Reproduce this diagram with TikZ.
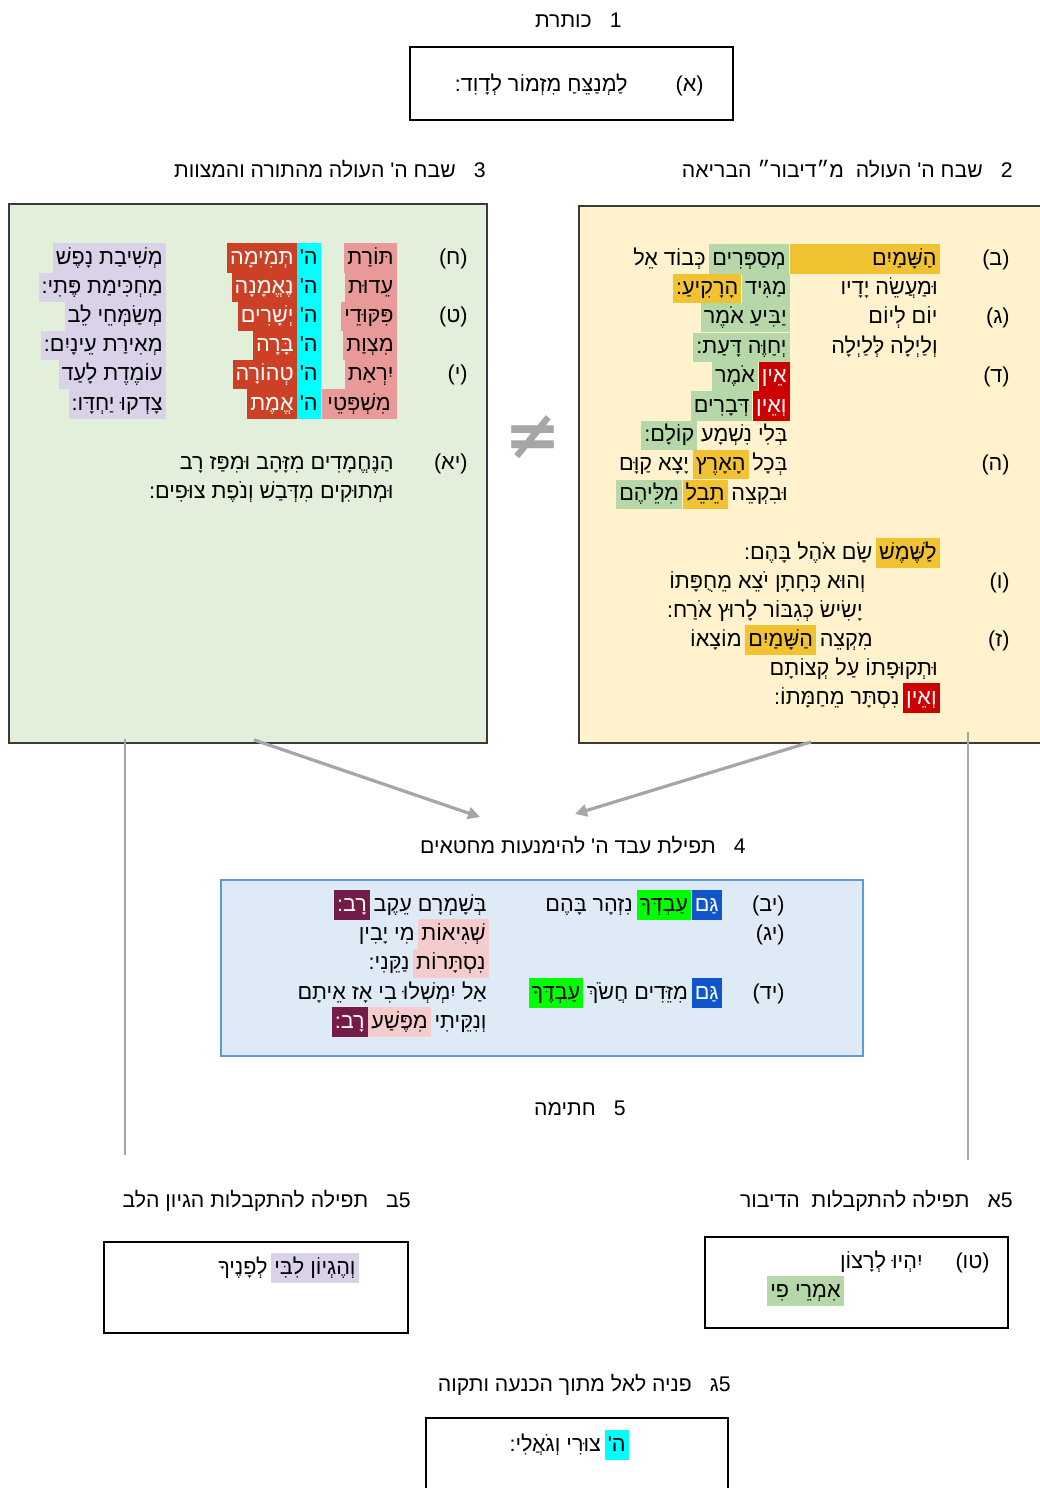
\documentclass[tikz,border=0pt]{standalone}
\usepackage{fontspec}
\usetikzlibrary{positioning,arrows.meta}
\newfontfamily\hebfont[Script=Hebrew]{Liberation Sans}
\newfontfamily\symfont{DejaVu Sans}
\TeXXeTstate=1
\newcommand\hebline[1]{\beginR #1\endR}

\definecolor{boxgreen}{HTML}{E2EFDA}
\definecolor{boxyellow}{HTML}{FFF2CC}
\definecolor{boxblue}{HTML}{DEEBF7}
\definecolor{boxblueline}{HTML}{5B9BD5}
\definecolor{boxline}{HTML}{3A3A3A}
\definecolor{linkgray}{HTML}{A6A6A6}
\definecolor{hlsalmon}{HTML}{EA9999}
\definecolor{hlcyan}{HTML}{00FFFF}
\definecolor{hlred}{HTML}{CC4125}
\definecolor{hllav}{HTML}{D9D2E9}
\definecolor{hlgold}{HTML}{F1C232}
\definecolor{hlgreen}{HTML}{B6D7A8}
\definecolor{hlcrimson}{HTML}{CC0000}
\definecolor{hlblue}{HTML}{1155CC}
\definecolor{hllime}{HTML}{00FF00}
\definecolor{hlpink}{HTML}{F4CCCC}
\definecolor{hlmaroon}{HTML}{741B47}

\tikzset{
  heb/.style={font=\hebfont\fontsize{10.8pt}{12pt}\selectfont},
  cell/.style={heb,anchor=east,inner xsep=1.5pt,inner ysep=0pt,text height=10.3pt,text depth=4.3pt},
  hdr/.style={font=\hebfont\fontsize{10.6pt}{12pt}\selectfont,anchor=east,inner sep=0pt,text height=7.5pt,text depth=0pt},
  box/.style={draw=boxline,line width=0.9pt,inner sep=0pt},
  link/.style={draw=linkgray,line width=1.6pt,-{Triangle[length=6pt,width=6pt]}},
  rail/.style={draw=linkgray,line width=1pt},
}

\begin{document}
\begin{tikzpicture}[x=0.5pt,y=0.5pt,yscale=-1]
\useasboundingbox (0,0) rectangle (1039,1488);

% Boxes
\node[box,draw=black,line width=1.3pt,minimum width=161.5pt,minimum height=36.5pt] (box1) at (571.5,83.5) {};
\node[box,fill=boxgreen,minimum width=239pt,minimum height=269.5pt] (box3) at (248,473.5) {};
\node[box,fill=boxyellow,minimum width=240pt,minimum height=268.5pt] (box2) at (819,474.5) {};
\node[box,fill=boxblue,draw=boxblueline,minimum width=321pt,minimum height=88pt] (box4) at (542,968) {};
\node[box,draw=black,line width=1.2pt,minimum width=151.5pt,minimum height=45.5pt] (box5a) at (856.5,1282.5) {};
\node[box,draw=black,line width=1.2pt,minimum width=152pt,minimum height=45.5pt] (box5b) at (256,1287.5) {};
\node[box,draw=black,line width=1.2pt,minimum width=151pt,minimum height=41pt] (box5c) at (577,1459) {};

% Headers
\node[hdr] (h1) at (622,20) {\hebline{1\hspace{9pt}כותרת}};
\node[hdr] (h3) at (486,170) {\hebline{3\hspace{9pt}שבח ה' העולה מהתורה והמצוות}};
\node[hdr] (h2) at (1013,170) {\hebline{2\hspace{9pt}שבח ה' העולה\hspace{3pt} מ״דיבור״ הבריאה}};
\node[hdr] (h4) at (746,846) {\hebline{4\hspace{9pt}תפילת עבד ה' להימנעות מחטאים}};
\node[hdr] (h5) at (626,1108) {\hebline{5\hspace{9pt}חתימה}};
\node[hdr] (h5a) at (1013,1200) {\hebline{5א\hspace{9pt}תפילה להתקבלות\hspace{3pt} הדיבור}};
\node[hdr] (h5b) at (411,1200) {\hebline{5ב\hspace{9pt}תפילה להתקבלות הגיון הלב}};
\node[hdr] (h5c) at (731,1384) {\hebline{5ג\hspace{9pt}פניה לאל מתוך הכנעה ותקוה}};

% Text Node: box 1
\node[cell] (l1) at (707,85) {\hebline{(א)}};
\node[cell] (v1) at (631,85) {\hebline{לַמְנַצֵּחַ מִזְמוֹר לְדָוִד:}};

% Text Node: box 3
\node[cell] (l8) at (471,258) {\hebline{(ח)}};
\node[cell] (l9) at (471,316.4) {\hebline{(ט)}};
\node[cell] (l10) at (471,374.8) {\hebline{(י)}};
\node[cell] (l11) at (471,463) {\hebline{(יא)}};

\node[cell,fill=hlsalmon,minimum width=26pt] (tA1) at (397,258) {\hebline{תּוֹרַת}};
\node[cell,fill=hlsalmon,minimum width=26pt] (tA2) at (397,287.2) {\hebline{עֵדוּת}};
\node[cell,fill=hlsalmon,minimum width=26pt] (tA3) at (397,316.4) {\hebline{פִּקּוּדֵי}};
\node[cell,fill=hlsalmon,minimum width=26pt] (tA4) at (397,345.6) {\hebline{מִצְוַת}};
\node[cell,fill=hlsalmon,minimum width=26pt] (tA5) at (397,374.8) {\hebline{יִרְאַת}};
\node[cell,fill=hlsalmon,minimum width=37.5pt] (tA6) at (397,404) {\hebline{מִשְׁפְּטֵי}};

\node[cell,fill=hlcyan,minimum width=11pt] (tB1) at (321,258) {\hebline{ה'}};
\node[cell,fill=hlcyan,minimum width=11pt] (tB2) at (321,287.2) {\hebline{ה'}};
\node[cell,fill=hlcyan,minimum width=11pt] (tB3) at (321,316.4) {\hebline{ה'}};
\node[cell,fill=hlcyan,minimum width=11pt] (tB4) at (321,345.6) {\hebline{ה'}};
\node[cell,fill=hlcyan,minimum width=11pt] (tB5) at (321,374.8) {\hebline{ה'}};
\node[cell,fill=hlcyan,minimum width=11pt] (tB6) at (321,404) {\hebline{ה'}};

\node[cell,fill=hlred,text=white] (tC1) at (297,258) {\hebline{תְּמִימָה}};
\node[cell,fill=hlred,text=white] (tC2) at (297,287.2) {\hebline{נֶאֱמָנָה}};
\node[cell,fill=hlred,text=white] (tC3) at (297,316.4) {\hebline{יְשָׁרִים}};
\node[cell,fill=hlred,text=white] (tC4) at (297,345.6) {\hebline{בָּרָה}};
\node[cell,fill=hlred,text=white] (tC5) at (297,374.8) {\hebline{טְהוֹרָה}};
\node[cell,fill=hlred,text=white] (tC6) at (297,404) {\hebline{אֱמֶת}};

\node[cell,fill=hllav] (tD1) at (166,258) {\hebline{מְשִׁיבַת נָפֶשׁ}};
\node[cell,fill=hllav] (tD2) at (166,287.2) {\hebline{מַחְכִּימַת פֶּתִי:}};
\node[cell,fill=hllav] (tD3) at (166,316.4) {\hebline{מְשַׂמְּחֵי לֵב}};
\node[cell,fill=hllav] (tD4) at (166,345.6) {\hebline{מְאִירַת עֵינָיִם:}};
\node[cell,fill=hllav] (tD5) at (166,374.8) {\hebline{עוֹמֶדֶת לָעַד}};
\node[cell,fill=hllav] (tD6) at (166,404) {\hebline{צָדְקוּ יַחְדָּו:}};

\node[cell] (t11a) at (397,463) {\hebline{הַנֶּחֱמָדִים מִזָּהָב וּמִפַּז רָב}};
\node[cell] (t11b) at (397,492) {\hebline{וּמְתוּקִים מִדְּבַשׁ וְנֹפֶת צוּפִים:}};

% Text Node: box 2
\node[cell] (l2) at (1013,259) {\hebline{(ב)}};
\node[cell] (l3) at (1013,317.8) {\hebline{(ג)}};
\node[cell] (l4) at (1013,376.6) {\hebline{(ד)}};
\node[cell] (l5) at (1013,464.8) {\hebline{(ה)}};
\node[cell] (l6) at (1013,582) {\hebline{(ו)}};
\node[cell] (l7) at (1013,640) {\hebline{(ז)}};

\node[cell,fill=hlgold,minimum width=75pt] (r1a) at (940,259) {\makebox[72pt][r]{\hebline{הַשָּׁמַיִם}}};
\node[cell,fill=hlgreen,left=0pt of r1a] (r1b) {\hebline{מְסַפְּרִים}};
\node[cell,left=0pt of r1b] (r1c) {\hebline{כְּבוֹד אֵל}};
\node[cell] (r2a) at (941,288.4) {\hebline{וּמַעֲשֵׂה יָדָיו}};
\node[cell,fill=hlgreen] (r2b) at (790,288.4) {\hebline{מַגִּיד}};
\node[cell,fill=hlgold,left=0pt of r2b] (r2c) {\hebline{הָרָקִיעַ:}};
\node[cell] (r3a) at (941,317.8) {\hebline{יוֹם לְיוֹם}};
\node[cell,fill=hlgreen] (r3b) at (790,317.8) {\hebline{יַבִּיעַ אֹמֶר}};
\node[cell] (r4a) at (941,347.2) {\hebline{וְלַיְלָה לְּלַיְלָה}};
\node[cell,fill=hlgreen] (r4b) at (790,347.2) {\hebline{יְחַוֶּה דָּעַת:}};
\node[cell,fill=hlcrimson,text=white] (r5a) at (790,376.6) {\hebline{אֵין}};
\node[cell,fill=hlgreen,left=0pt of r5a] (r5b) {\hebline{אֹמֶר}};
\node[cell,fill=hlcrimson,text=white] (r6a) at (790,406) {\hebline{וְאֵין}};
\node[cell,fill=hlgreen,left=0pt of r6a] (r6b) {\hebline{דְּבָרִים}};
\node[cell] (r7a) at (791,435.4) {\hebline{בְּלִי נִשְׁמָע}};
\node[cell,fill=hlgreen,left=0pt of r7a] (r7b) {\hebline{קוֹלָם:}};
\node[cell] (r8a) at (791,464.8) {\hebline{בְּכָל}};
\node[cell,fill=hlgold,left=0pt of r8a] (r8b) {\hebline{הָאָרֶץ}};
\node[cell,left=0pt of r8b] (r8c) {\hebline{יָצָא קַוָּם}};
\node[cell] (r9a) at (791,494.2) {\hebline{וּבִקְצֵה}};
\node[cell,fill=hlgold,left=0pt of r9a] (r9b) {\hebline{תֵבֵל}};
\node[cell,fill=hlgreen,left=0pt of r9b] (r9c) {\hebline{מִלֵּיהֶם}};

\node[cell,fill=hlgold] (r10a) at (940,553) {\hebline{לַשֶּׁמֶשׁ}};
\node[cell,left=0pt of r10a] (r10b) {\hebline{שָׂם אֹהֶל בָּהֶם:}};
\node[cell] (r11) at (869,582) {\hebline{וְהוּא כְּחָתָן יֹצֵא מֵחֻפָּתוֹ}};
\node[cell] (r12) at (866,611) {\hebline{יָשִׂישׂ כְּגִבּוֹר לָרוּץ אֹרַח:}};
\node[cell] (r13a) at (876,640) {\hebline{מִקְצֵה}};
\node[cell,fill=hlgold,left=0pt of r13a] (r13b) {\hebline{הַשָּׁמַיִם}};
\node[cell,left=0pt of r13b] (r13c) {\hebline{מוֹצָאוֹ}};
\node[cell] (r14) at (941,669) {\hebline{וּתְקוּפָתוֹ עַל קְצוֹתָם}};
\node[cell,fill=hlcrimson,text=white] (r15a) at (940,698) {\hebline{וְאֵין}};
\node[cell,left=0pt of r15a] (r15b) {\hebline{נִסְתָּר מֵחַמָּתוֹ:}};

% neq sign
\node[text=linkgray,font=\symfont\bfseries\fontsize{34pt}{34pt}\selectfont] (neq) at (533,437) {≠};

% Straight Lines
\coordinate (in3) at (480,817);
\coordinate (in2) at (575,814);
\draw[link] ([xshift=3pt,yshift=-2pt]box3.south) -- (in3);
\draw[link] ([xshift=-4pt,yshift=-1pt]box2.south) -- (in2);
\coordinate (r3b) at (125,1155);
\coordinate (r2b) at (968,1160);
\draw[rail] ([yshift=-2.5pt]box3.south -| r3b) -- (r3b);
\draw[rail] ([yshift=-6pt]box2.south -| r2b) -- (r2b);

% Text Node: box 4
\node[cell] (l12) at (788,905) {\hebline{(יב)}};
\node[cell] (l13) at (788,934) {\hebline{(יג)}};
\node[cell] (l14) at (788,993) {\hebline{(יד)}};

\node[cell,fill=hlblue,text=white] (s1a) at (722,905) {\hebline{גַּם}};
\node[cell,fill=hllime,left=0pt of s1a] (s1b) {\hebline{עַבְדְּךָ}};
\node[cell,left=0pt of s1b] (s1c) {\hebline{נִזְהָר בָּהֶם}};
\node[cell] (s1d) at (490,905) {\hebline{בְּשָׁמְרָם עֵקֶב}};
\node[cell,fill=hlmaroon,text=white,left=0pt of s1d] (s1e) {\hebline{רָב:}};
\node[cell,fill=hlpink] (s2a) at (489,934) {\hebline{שְׁגִיאוֹת}};
\node[cell,left=0pt of s2a] (s2b) {\hebline{מִי יָבִין}};
\node[cell,fill=hlpink] (s3a) at (489,963.5) {\hebline{נִסְתָּרוֹת}};
\node[cell,left=0pt of s3a] (s3b) {\hebline{נַקֵּנִי:}};
\node[cell,fill=hlblue,text=white] (s4a) at (722,993) {\hebline{גַּם}};
\node[cell,left=0pt of s4a] (s4b) {\hebline{מִזֵּדִים חֲשֹׂךְ}};
\node[cell,fill=hllime,left=0pt of s4b] (s4c) {\hebline{עַבְדֶּךָ}};
\node[cell] (s4d) at (490,993) {\hebline{אַל יִמְשְׁלוּ בִי אָז אֵיתָם}};
\node[cell] (s5a) at (490,1022) {\hebline{וְנִקֵּיתִי}};
\node[cell,fill=hlpink,left=0pt of s5a] (s5b) {\hebline{מִפֶּשַׁע}};
\node[cell,fill=hlmaroon,text=white,left=0pt of s5b] (s5c) {\hebline{רָב:}};

% Text Node: boxes 5
\node[cell] (l15) at (993,1262) {\hebline{(טו)}};
\node[cell] (f1) at (926,1262) {\hebline{יִהְיוּ לְרָצוֹן}};
\node[cell,fill=hlgreen] (f2) at (844,1291) {\hebline{אִמְרֵי פִי}};
\node[cell,fill=hllav] (g1) at (359,1268) {\hebline{וְהֶגְיוֹן לִבִּי}};
\node[cell,left=0pt of g1] (g2) {\hebline{לְפָנֶיךָ}};
\node[cell,fill=hlcyan] (k1) at (629,1445) {\hebline{ה'}};
\node[cell,left=0pt of k1] (k2) {\hebline{צוּרִי וְגֹאֲלִי:}};

\end{tikzpicture}
\end{document}
